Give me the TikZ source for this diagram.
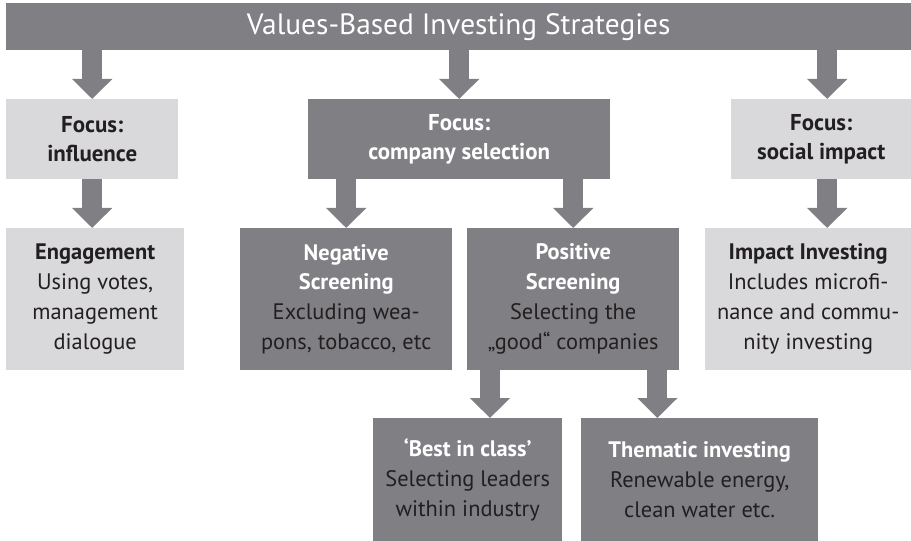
\documentclass[tikz,border=0pt]{standalone}
\usepackage{fontspec}
\setmainfont{PT Sans}
\usetikzlibrary{arrows.meta}

\definecolor{darkbox}{RGB}{128,128,132}
\definecolor{lightbox}{RGB}{217,217,219}
\definecolor{inktext}{RGB}{35,31,32}
\newcommand{\whitehead}[1]{\textbf{\textcolor{white}{#1}}}

\begin{document}
\begin{tikzpicture}[x=1bp, y=-1bp,
    box/.style={rectangle, anchor=north west, inner sep=0pt, align=center, text=inktext, font=\fontsize{22.5}{30}\selectfont},
    dark/.style={box, fill=darkbox},
    light/.style={box, fill=lightbox},
    focus/.style={font=\fontsize{23}{29}\selectfont\bfseries},
    flow/.style={draw=darkbox, line width=20bp, -{Triangle[width=39bp,length=20bp]}}]
\useasboundingbox (0,0) rectangle (911,541);

% heading bar
\node[dark, minimum width=905bp, minimum height=47bp, text=white, font=\fontsize{29.5}{30}\selectfont] (top) at (6,3) {Values-Based Investing Strategies};

% focus row
\node[light, focus, minimum width=172bp, minimum height=80bp] (inf) at (6,99) {Focus:\\influence};
\node[dark, focus, text=white, minimum width=302bp, minimum height=80bp] (sel) at (308,99) {Focus:\\company selection};
\node[light, focus, minimum width=180bp, minimum height=80bp] (soc) at (731,99) {Focus:\\social impact};

% strategies
\node[light, minimum width=178bp, minimum height=142bp] (eng) at (6,228) {\textbf{Engagement}\\Using votes,\\management\\dialogue};
\node[dark, minimum width=212bp, minimum height=142bp] (neg) at (240,228) {\whitehead{Negative}\\\whitehead{Screening}\\Excluding wea-\\pons, tobacco, etc};
\node[dark, minimum width=212bp, minimum height=142bp] (pos) at (467,228) {\whitehead{Positive}\\\whitehead{Screening}\\Selecting the\\„good“ companies};
\node[light, minimum width=206bp, minimum height=142bp] (imp) at (705,228) {\textbf{Impact Investing}\\Includes microfi-\\nance and commu-\\nity investing};
\node[dark, minimum width=189bp, minimum height=123bp] (best) at (373,418) {\whitehead{‘Best in class’}\\Selecting leaders\\within industry};
\node[dark, minimum width=237bp, minimum height=123bp] (them) at (581,418) {\whitehead{Thematic investing}\\Renewable energy,\\clean water etc.};

\coordinate (socdown) at ([xshift=6bp]soc.south);
\coordinate (posleft) at ([xshift=23bp]pos.south west);
\coordinate (posright) at ([xshift=-22bp]pos.south east);

\draw[flow] (top.south -| inf.north) -- (inf.north);
\draw[flow] (top.south -| sel.north) -- (sel.north);
\draw[flow] (top.south -| socdown) -- (socdown |- soc.north);
\draw[flow] (inf.south) -- (inf.south |- eng.north);
\draw[flow] (sel.south -| neg.north) -- (neg.north);
\draw[flow] (sel.south -| pos.north) -- (pos.north);
\draw[flow] (socdown) -- (socdown |- imp.north);
\draw[flow] (posleft) -- (posleft |- best.north);
\draw[flow] (posright) -- (posright |- them.north);
\end{tikzpicture}
\end{document}
